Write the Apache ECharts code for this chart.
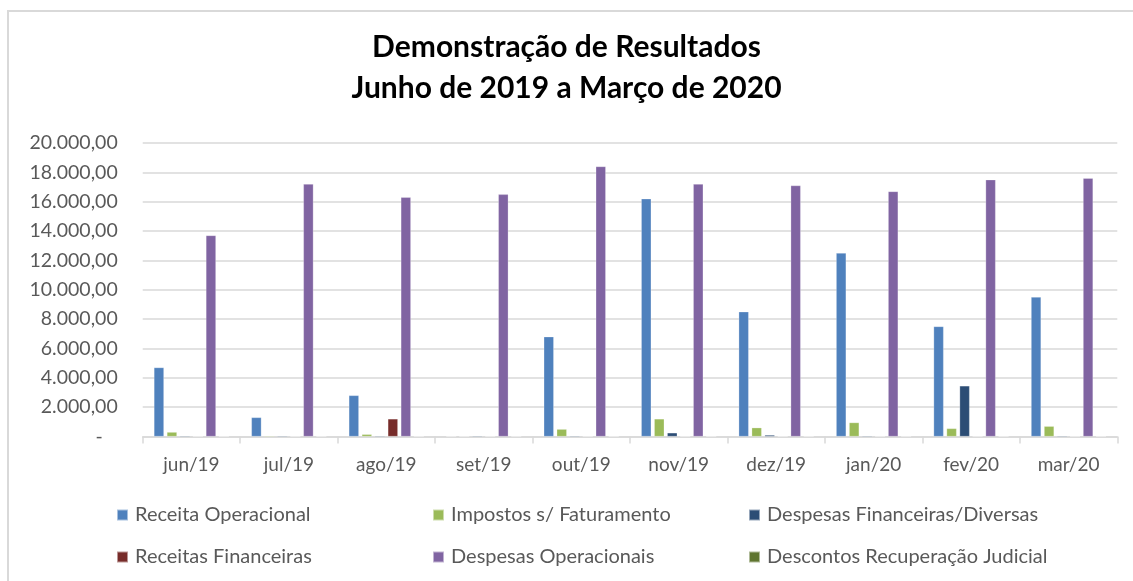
<!DOCTYPE html>
<html>
<head>
<meta charset="utf-8">
<script src="https://cdn.jsdelivr.net/npm/echarts@6/dist/echarts.min.js"></script>
<style>
  html, body { margin: 0; padding: 0; background: #fff; overflow: hidden; }
  #frame { position: absolute; left: 7px; top: 10px; width: 1200px; height: 700px;
           border-left: 2px solid #d9d9d9; border-top: 2px solid #d9d9d9; }
  #chart { position: absolute; left: 0; top: 0; width: 1133px; height: 581px; }
</style>
</head>
<body>
<div id="frame"></div>
<div id="chart"></div>
<script>
const months = ["jun/19", "jul/19", "ago/19", "set/19", "out/19", "nov/19", "dez/19", "jan/20", "fev/20", "mar/20"];

const receitaOperacional = [4700, 1300, 2800, 0, 6800, 16200, 8500, 12500, 7500, 9500];
const impostosFaturamento = [300, 50, 150, 0, 500, 1200, 600, 950, 550, 700];
const despesasFinanceiras = [50, 50, 50, 50, 50, 250, 100, 50, 3450, 50];
const receitasFinanceiras = [0, 0, 1200, 0, 0, 0, 0, 0, 0, 0];
const despesasOperacionais = [13700, 17200, 16300, 16500, 18400, 17200, 17100, 16700, 17500, 17600];
const descontosRecuperacao = [0, 0, 0, 0, 0, 0, 0, 0, 0, 0];

const chart = echarts.init(document.getElementById("chart"));

const fontFamily = "Lato, 'Open Sans', sans-serif";
const textGray = "#595959";

// 1234.5 -> "1.234,50", 0 -> "-"
const fmt = (v) => {
  if (v === 0) return "-   ";
  const parts = v.toFixed(2).split(".");
  return parts[0].replace(/\B(?=(\d{3})+(?!\d))/g, ".") + "," + parts[1];
};

const bar = (name, data, color) => ({
  name,
  type: "bar",
  data,
  barWidth: 10,
  barGap: "30%",
  itemStyle: { color, borderColor: "rgba(255,255,255,0.5)", borderWidth: 0.5 },
});

const legendBase = {
  orient: "vertical",
  top: 500,
  itemWidth: 11,
  itemHeight: 11,
  itemGap: 22,
  icon: "rect",
  textStyle: { color: textGray, fontSize: 20, fontFamily, padding: [0, 0, 0, 2] },
};

const option = {
  animation: false,
  backgroundColor: "transparent",
  title: {
    text: "Demonstração de Resultados\nJunho de 2019 a Março de 2020",
    left: "center",
    top: 22,
    textStyle: { fontSize: 30, fontWeight: "bold", color: "#000", fontFamily, lineHeight: 41 },
  },
  legend: [
    { ...legendBase, left: 111, data: ["Receita Operacional", "Receitas Financeiras"] },
    { ...legendBase, left: 427, data: ["Impostos s/ Faturamento", "Despesas Operacionais"] },
    { ...legendBase, left: 743, data: ["Despesas Financeiras/Diversas", "Descontos Recuperação Judicial"] },
  ],
  grid: { left: 142.7, right: 15.7, top: 143, bottom: 144.5 },
  xAxis: {
    type: "category",
    data: months,
    axisLine: { lineStyle: { color: "#d9d9d9", width: 1.5 } },
    axisTick: { show: true, length: 7, lineStyle: { color: "#d9d9d9", width: 1.5 } },
    axisLabel: { color: textGray, fontSize: 19, fontFamily, margin: 19 },
  },
  yAxis: {
    type: "value",
    min: 0,
    max: 20000,
    interval: 2000,
    axisLine: { show: false },
    axisTick: { show: false },
    splitLine: { lineStyle: { color: "#d9d9d9", width: 1.5 } },
    axisLabel: { color: textGray, fontSize: 19.5, fontFamily, margin: 25, formatter: fmt },
  },
  series: [
    bar("Receita Operacional", receitaOperacional, "#4f81bd"),
    bar("Impostos s/ Faturamento", impostosFaturamento, "#9bbb59"),
    bar("Despesas Financeiras/Diversas", despesasFinanceiras, "#2c4d75"),
    bar("Receitas Financeiras", receitasFinanceiras, "#772c2a"),
    bar("Despesas Operacionais", despesasOperacionais, "#8064a2"),
    bar("Descontos Recuperação Judicial", descontosRecuperacao, "#5f7530"),
  ],
};

chart.setOption(option);
</script>
</body>
</html>
